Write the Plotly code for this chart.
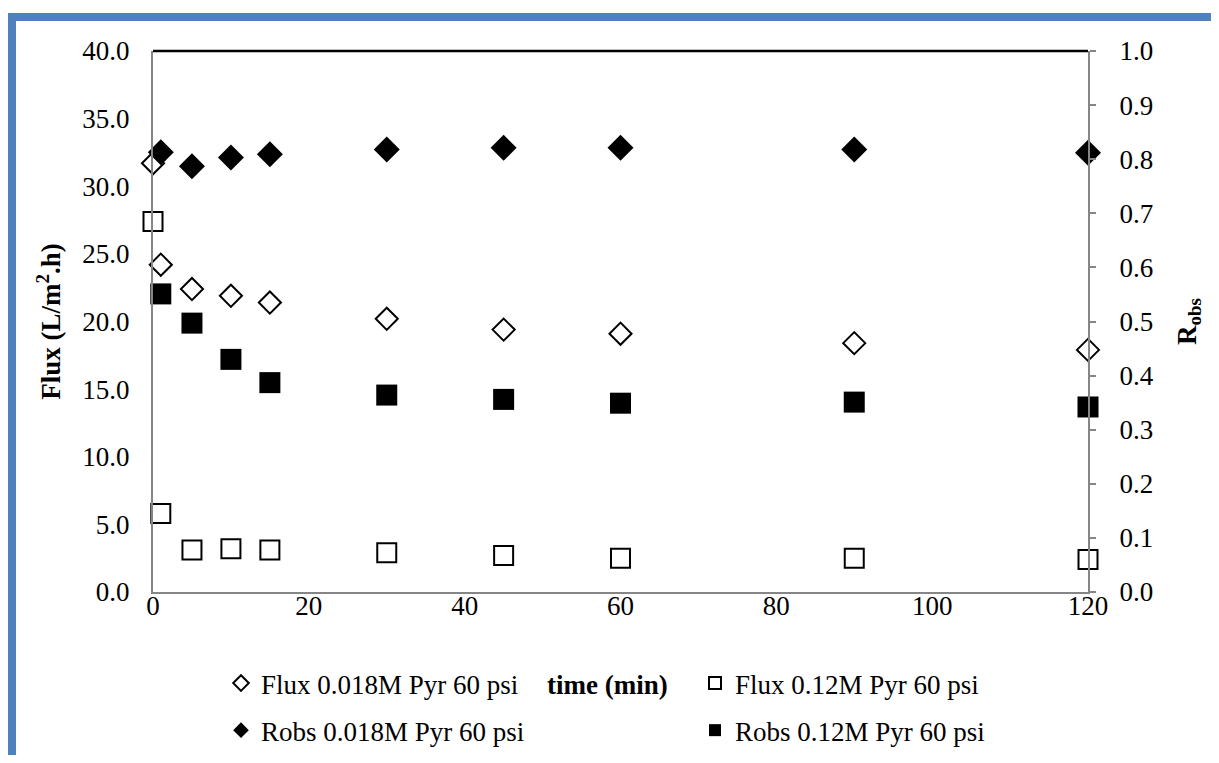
import plotly.graph_objects as go

# ---- data ----
time_flux = [0, 1, 5, 10, 15, 30, 45, 60, 90, 120]
flux_018 = [31.7, 24.2, 22.4, 21.9, 21.4, 20.2, 19.4, 19.1, 18.4, 17.9]
flux_012 = [27.4, 5.8, 3.1, 3.2, 3.1, 2.9, 2.7, 2.5, 2.5, 2.4]
time_robs = [1, 5, 10, 15, 30, 45, 60, 90, 120]
robs_018 = [0.813, 0.787, 0.803, 0.809, 0.818, 0.821, 0.821, 0.818, 0.812]
robs_012 = [0.551, 0.497, 0.430, 0.387, 0.364, 0.356, 0.349, 0.351, 0.342]

name_f018 = "Flux 0.018M Pyr 60 psi"
name_f012 = "Flux 0.12M Pyr 60 psi"
name_r018 = "Robs 0.018M Pyr 60 psi"
name_r012 = "Robs 0.12M Pyr 60 psi"

# page body has an 8px margin on every side; keep the page exactly 1219x763
OFF = 8
W, H = 1219 - 2 * OFF, 763 - 2 * OFF
PLOT_L, PLOT_R, PLOT_T, PLOT_B = 153, 1088, 51, 592  # page coords
ML = PLOT_L - OFF
MT = PLOT_T - OFF
MR = W - (PLOT_R - OFF)
MB = H - (PLOT_B - OFF)
PW, PH = W - ML - MR, H - MT - MB


def px(x):
    return (x - OFF - ML) / PW


def py(y):
    return (H - MB - (y - OFF)) / PH


FONT = "Liberation Serif"
FS = 27
AXC = "#868686"

fig = go.Figure()
fig.add_trace(go.Scatter(
    x=time_flux, y=flux_018, mode="markers", name=name_f018,
    legend="legend", legendgroup="a", cliponaxis=False,
    marker=dict(symbol="diamond", size=17, color="white",
                line=dict(color="black", width=2))))
fig.add_trace(go.Scatter(
    x=time_robs, y=robs_018, mode="markers", name=name_r018, yaxis="y2",
    legend="legend", legendgroup="b", cliponaxis=False,
    marker=dict(symbol="diamond", size=20, color="black",
                line=dict(color="black", width=0))))
fig.add_trace(go.Scatter(
    x=time_flux, y=flux_012, mode="markers", name=name_f012,
    legend="legend2", legendgroup="c", cliponaxis=False,
    marker=dict(symbol="square", size=19, color="white",
                line=dict(color="black", width=2))))
fig.add_trace(go.Scatter(
    x=time_robs, y=robs_012, mode="markers", name=name_r012, yaxis="y2",
    legend="legend2", legendgroup="d", cliponaxis=False,
    marker=dict(symbol="square", size=21, color="black",
                line=dict(color="black", width=0))))

legend_common = dict(
    font=dict(family=FONT, size=FS, color="black"),
    bgcolor="rgba(0,0,0,0)", borderwidth=0,
    orientation="v", itemsizing="constant", itemwidth=30,
    tracegroupgap=9, xanchor="left", yanchor="top",
)

fig.update_layout(
    width=W, height=H,
    margin=dict(l=ML, r=MR, t=MT, b=MB, pad=0, autoexpand=False),
    paper_bgcolor="white", plot_bgcolor="white",
    font=dict(family=FONT, size=FS, color="black"),
    showlegend=True,
    legend=dict(**legend_common, x=px(221), y=py(659)),
    legend2=dict(**legend_common, x=px(695), y=py(659)),
    xaxis=dict(
        range=[0, 120], dtick=20, tick0=0,
        showgrid=False, zeroline=False,
        showline=True, linecolor=AXC, linewidth=2,
        ticks="", ticklabelstandoff=-11,
        tickfont=dict(family=FONT, size=FS, color="black"),
    ),
    yaxis=dict(
        range=[0, 40], dtick=5, tick0=0, tickformat=".1f",
        showgrid=False, zeroline=False,
        showline=True, linecolor=AXC, linewidth=2,
        ticks="", ticklabelstandoff=16,
        tickfont=dict(family=FONT, size=FS, color="black"),
        title=dict(text="<b>Flux (L/m<sup>2</sup>.h)</b>", standoff=14,
                   font=dict(family=FONT, size=FS, color="black")),
    ),
    yaxis2=dict(
        range=[0, 1], dtick=0.1, tick0=0, tickformat=".1f",
        overlaying="y", side="right", anchor="x",
        showgrid=False, zeroline=False,
        showline=True, linecolor=AXC, linewidth=2,
        ticks="outside", ticklen=6, tickcolor=AXC, tickwidth=1.5,
        ticklabelstandoff=18,
        tickfont=dict(family=FONT, size=FS, color="black"),
        title=dict(text="<b>R<sub>obs</sub></b>", standoff=24,
                   font=dict(family=FONT, size=FS, color="black")),
    ),
    shapes=[
        # top black frame of plot area
        dict(type="line", xref="paper", yref="paper", x0=0, x1=1, y0=1, y1=1,
             line=dict(color="black", width=2.5)),
        # blue page border (top and left)
        dict(type="rect", xref="paper", yref="paper", layer="above",
             x0=px(7), x1=px(1219 + 5), y0=py(21), y1=py(13),
             fillcolor="#4F81BD", line=dict(width=0)),
        dict(type="rect", xref="paper", yref="paper", layer="above",
             x0=px(0), x1=px(16), y0=py(763 + 5), y1=py(13),
             fillcolor="#4F81BD", line=dict(width=0)),
    ],
    annotations=[
        dict(text="<b>time (min)</b>", xref="paper", yref="paper",
             x=px(607), y=py(685), xanchor="center", yanchor="middle",
             showarrow=False, font=dict(family=FONT, size=FS, color="black")),
    ],
)

fig.write_html("out.html")
